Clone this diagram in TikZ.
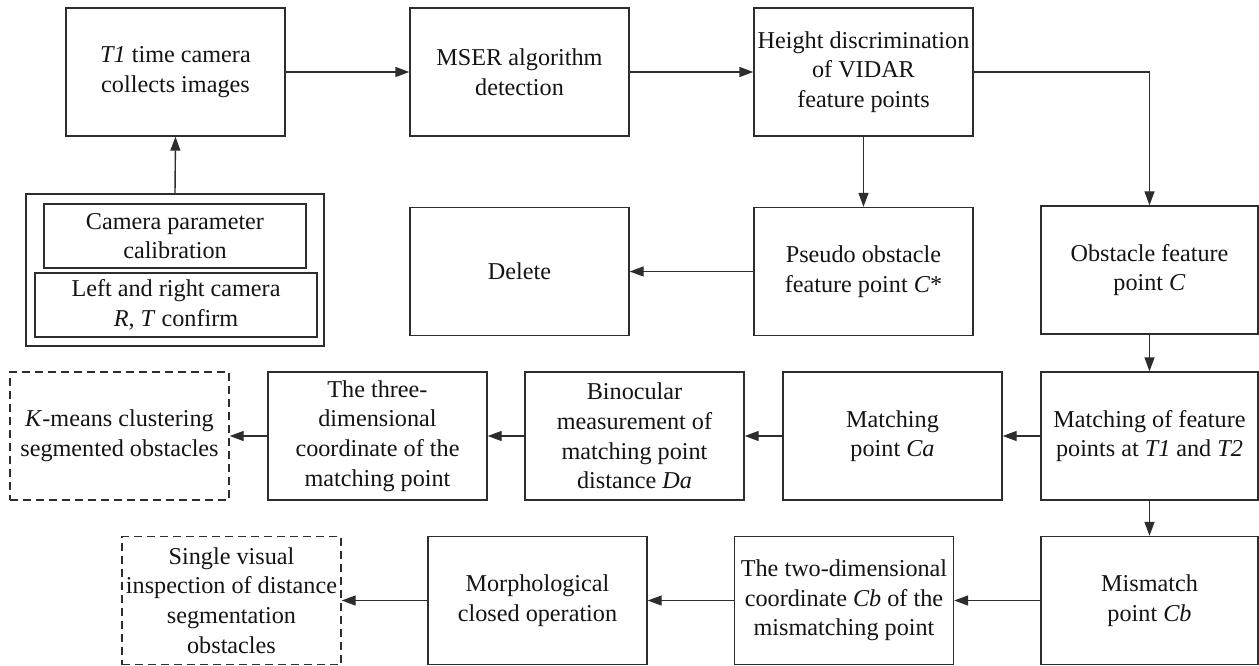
\documentclass[tikz,border=0pt]{standalone}
\usepackage{fontspec}
\setmainfont{Liberation Serif}
\usetikzlibrary{arrows.meta}
\definecolor{ln}{RGB}{45,45,45}
\definecolor{tx}{RGB}{20,20,20}
\begin{document}
\begin{tikzpicture}[x=1pt,y=-1pt,
  procbox/.style={draw=ln, line width=1.4pt, minimum width=219pt, minimum height=128pt, inner sep=0pt, align=center, text=tx, font=\fontsize{24.2}{29.6}\selectfont},
  dbox/.style={procbox, dash pattern=on 8pt off 5pt},
  innerbox/.style={draw=ln, line width=1.4pt, minimum height=64pt, inner sep=0pt, align=center, text=tx, font=\fontsize{24.2}{29.6}\selectfont},
  arr/.style={draw=ln, line width=1.4pt, -{Triangle[length=14pt,width=10pt]}}
]
\useasboundingbox (0,0) rectangle (1259,666);
\fill[white] (0,0) rectangle (1259,666);
% row 1
\node[procbox] (t1) at (175.5,72) {\textit{T1} time camera\\collects images};
\node[procbox] (ms) at (519.5,72) {MSER algorithm\\detection};
\node[procbox] (hd) at (863.5,72) {Height discrimination\\of VIDAR\\feature points};
% group
\node[draw=ln, line width=1.4pt, minimum width=298pt, minimum height=152pt, inner sep=0pt] (grp) at (175,270) {};
\node[innerbox, minimum width=262pt] (cp) at (175,236) {Camera parameter\\calibration};
\node[innerbox, minimum width=282pt] (lr) at (176,305) {Left and right camera\\\textit{R}, \textit{T} confirm};
% row 2
\node[procbox] (de) at (519.5,271.5) {Delete};
\node[procbox] (ps) at (863.5,271.5) {Pseudo obstacle\\feature point \textit{C}*};
\node[procbox, minimum width=217pt] (ob) at (1149.5,270) {Obstacle feature\\point \textit{C}};
% row 3
\node[dbox] (km) at (119.5,436) {\textit{K}-means clustering\\segmented obstacles};
\node[procbox] (td) at (377.5,436) {The three-\\dimensional\\coordinate of the\\matching point};
\node[procbox] (bi) at (634.5,436) {Binocular\\measurement of\\matching point\\distance \textit{Da}};
\node[procbox] (ca) at (892.5,436) {Matching\\point \textit{Ca}};
\node[procbox, minimum width=217pt] (mf) at (1149.5,436) {Matching of feature\\points at \textit{T1} and \textit{T2}};
% row 4
\node[dbox] (sv) at (231.5,600.5) {Single visual\\inspection of distance\\segmentation\\obstacles};
\node[procbox] (mo) at (537.5,600.5) {Morphological\\closed operation};
\node[procbox] (tw) at (844,600.5) {The two-dimensional\\coordinate \textit{Cb} of the\\mismatching point};
\node[procbox, minimum width=217pt] (mm) at (1149.5,600.5) {Mismatch\\point \textit{Cb}};
% connectors
\draw[arr] (grp.north) -- (t1.south);
\draw[arr] (t1.east) -- (ms.west);
\draw[arr] (ms.east) -- (hd.west);
\draw[arr] (hd.south) -- (ps.north);
\draw[arr] (hd.east) -| (ob.north);
\draw[arr] (ps.west) -- (de.east);
\draw[arr] (ob.south) -- (mf.north);
\draw[arr] (mf.west) -- (ca.east);
\draw[arr] (ca.west) -- (bi.east);
\draw[arr] (bi.west) -- (td.east);
\draw[arr] (td.west) -- (km.east);
\draw[arr] (mf.south) -- (mm.north);
\draw[arr] (mm.west) -- (tw.east);
\draw[arr] (tw.west) -- (mo.east);
\draw[arr] (mo.west) -- (sv.east);
\end{tikzpicture}
\end{document}
